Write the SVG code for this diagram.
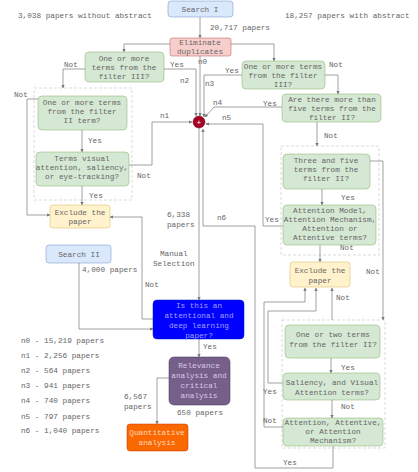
<svg xmlns="http://www.w3.org/2000/svg" width="418" height="472" viewBox="0 0 418 472">
<defs>
<marker id="a" viewBox="0 0 6 6" refX="5.5" refY="3" markerWidth="4" markerHeight="4" orient="auto"><path d="M0,0 L6,3 L0,6 Z" fill="#777"/></marker>
<style>
text{font-family:"Liberation Mono","DejaVu Sans Mono",monospace;font-size:7.7px;fill:#666}
.c text,.m{text-anchor:middle}
.g{fill:#d5e8d4;stroke:#82b366;stroke-width:0.5}
.y{fill:#fff2cc;stroke:#d6b656;stroke-width:0.5}
.b{fill:#dae8fc;stroke:#6c8ebf;stroke-width:0.5}
.r{fill:#f8cecc;stroke:#b85450;stroke-width:0.5}
.d{fill:none;stroke:#ccc;stroke-width:0.7;stroke-dasharray:3 2}
#conn path{fill:none;stroke:#888;stroke-width:0.8;marker-end:url(#a)}
</style>
</defs>
<rect width="418" height="472" fill="#fff"/>
<rect class="d" x="34" y="88" width="98" height="112"/>
<rect class="d" x="281" y="146" width="98" height="109"/>
<rect class="d" x="282" y="320" width="103" height="128"/>
<g id="conn">
<path d="M200,17 V38"/>
<path d="M170,44 H124 V52"/>
<path d="M231,44 H274 V61"/>
<path d="M85,69 H63 V88"/>
<path d="M164,69 H196 V116"/>
<path d="M200,56 V116"/>
<path d="M242,75 H204 V117"/>
<path d="M325,75 H338 V94"/>
<path d="M282,107 H214 L205,117"/>
<path d="M317,122 V146"/>
<path d="M283,226 H263 V124 H206"/>
<path d="M333,446 V468 H255 V226 H203 V129"/>
<path d="M199,128 V300"/>
<path d="M129,165 H152 V122 H192"/>
<path d="M82,130 V152"/>
<path d="M82,186 V205"/>
<path d="M38,99 H27 V215 H50"/>
<path d="M153,319 H142 V217 H110"/>
<path d="M79,263 V329 H153"/>
<path d="M199,339 V357"/>
<path d="M169,378 H157 V424"/>
<path d="M322,189 V205"/>
<path d="M320,245 V262"/>
<path d="M370,161 H383 V320"/>
<path d="M332,320 V288"/>
<path d="M331,358 V373"/>
<path d="M283,383 H268 V311 H316 V288"/>
<path d="M332,400 V418"/>
<path d="M283,427 H264 V302 H305 V288"/>
</g>
<g id="searchI" class="c"><rect class="b" x="168" y="1" width="65" height="16" rx="3"/><text x="200" y="12">Search I</text></g>
<g id="elim" class="c"><rect class="r" x="170" y="38" width="61" height="18" rx="2"/><text x="200" y="45">Eliminate</text><text x="200" y="54">duplicates</text></g>
<g id="f3left" class="c"><rect class="g" x="85" y="52" width="79" height="30" rx="4"/><text x="124" y="61">One or more</text><text x="124" y="70">terms from the</text><text x="124" y="79">filter III?</text></g>
<g id="f3right" class="c"><rect class="g" x="242" y="61" width="83" height="28" rx="4"/><text x="283" y="69">One or more terms</text><text x="283" y="78">from the filter</text><text x="283" y="87">III?</text></g>
<g id="more5" class="c"><rect class="g" x="282" y="94" width="99" height="28" rx="4"/><text x="332" y="102">Are there more than</text><text x="332" y="111">five terms from the</text><text x="332" y="120">filter II?</text></g>
<g id="f2term" class="c"><rect class="g" x="38" y="96" width="89" height="34" rx="4"/><text x="82" y="105">One or more terms</text><text x="82" y="114">from the filter</text><text x="82" y="123">II term?</text></g>
<g id="visual" class="c"><rect class="g" x="36" y="152" width="93" height="34" rx="4"/><text x="82" y="161">Terms visual</text><text x="82" y="170">attention, saliency,</text><text x="82" y="179">or eye-tracking?</text></g>
<g id="excl1" class="c"><rect class="y" x="50" y="205" width="60" height="23" rx="3"/><text x="80" y="215">Exclude the</text><text x="80" y="224">paper</text></g>
<g id="three5" class="c"><rect class="g" x="283" y="154" width="87" height="35" rx="4"/><text x="326" y="163">Three and five</text><text x="326" y="172">terms from the</text><text x="326" y="181">filter II?</text></g>
<g id="attmodel" class="c"><rect class="g" x="283" y="205" width="93" height="40" rx="4"/><text x="330" y="213">Attention Model,</text><text x="330" y="222">Attention Mechanism,</text><text x="330" y="231">Attention or</text><text x="330" y="240">Attentive terms?</text></g>
<g id="excl2" class="c"><rect class="y" x="290" y="262" width="60" height="25" rx="3"/><text x="320" y="273">Exclude the</text><text x="320" y="283">paper</text></g>
<g id="searchII" class="c"><rect class="b" x="46" y="245" width="65" height="18" rx="3"/><text x="79" y="257">Search II</text></g>
<g id="blue" class="c"><rect x="153" y="300" width="91" height="39" rx="4" fill="#0000ff" stroke="#001dbc" stroke-width="0.5"/><text x="199" y="308" style="fill:#a0a0ff">Is this an</text><text x="199" y="318" style="fill:#a0a0ff">attentional and</text><text x="199" y="328" style="fill:#a0a0ff">deep learning</text><text x="199" y="338" style="fill:#a0a0ff">paper?</text></g>
<g id="relev" class="c"><rect x="169" y="357" width="61" height="48" rx="5" fill="#76608a" stroke="#432d57" stroke-width="0.5"/><text x="199" y="368" style="fill:#d8c8e8">Relevance</text><text x="199" y="378" style="fill:#d8c8e8">analysis and</text><text x="199" y="388" style="fill:#d8c8e8">critical</text><text x="199" y="398" style="fill:#d8c8e8">analysis</text></g>
<g id="quant" class="c"><rect x="127" y="424" width="61" height="27" rx="3" fill="#fa6800" stroke="#c73500" stroke-width="0.5"/><text x="157" y="435" style="fill:#ffd8c0">Quantitative</text><text x="157" y="445" style="fill:#ffd8c0">analysis</text></g>
<g id="one2" class="c"><rect class="g" x="285" y="325" width="95" height="33" rx="4"/><text x="333" y="337">One or two terms</text><text x="333" y="347">from the filter II?</text></g>
<g id="saliency" class="c"><rect class="g" x="283" y="373" width="97" height="27" rx="4"/><text x="332" y="385">Saliency, and Visual</text><text x="332" y="395">Attention terms?</text></g>
<g id="attentive" class="c"><rect class="g" x="283" y="418" width="100" height="28" rx="4"/><text x="333" y="425">Attention, Attentive,</text><text x="333" y="434">or Attention</text><text x="333" y="443">Mechanism?</text></g>
<g id="junction"><circle cx="199" cy="122" r="6" fill="#a20025" stroke="#6f0000" stroke-width="0.5"/><text x="199" y="125" class="m" style="fill:#fff;font-size:8px">+</text></g>
<g id="labels">
<text x="18" y="18">3,038 papers without abstract</text>
<text x="285" y="18">18,257 papers with abstract</text>
<text x="210" y="30">20,717 papers</text>
<text x="198" y="64">n0</text>
<text x="64" y="67">Not</text>
<text x="170" y="67">Yes</text>
<text x="180" y="83">n2</text>
<text x="205" y="86">n3</text>
<text x="225" y="73">Yes</text>
<text x="329" y="67">Not</text>
<text x="14" y="97">Not</text>
<text x="213" y="105">n4</text>
<text x="263" y="106">Yes</text>
<text x="222" y="120">n5</text>
<text x="160" y="118">n1</text>
<text x="324" y="138">Not</text>
<text x="88" y="143">Yes</text>
<text x="137" y="178">Not</text>
<text x="89" y="198">Yes</text>
<text x="341" y="200">Yes</text>
<text x="167" y="217">6,338</text>
<text x="167" y="227">papers</text>
<text x="217" y="220">n6</text>
<text x="265" y="222">Yes</text>
<text x="340" y="250">Not</text>
<text x="160" y="256">Manual</text>
<text x="153" y="266">Selection</text>
<text x="82" y="272">4,000 papers</text>
<text x="366" y="274">Not</text>
<text x="145" y="287">Not</text>
<text x="336" y="300">Not</text>
<text x="21" y="343">n0 - 15,219 papers</text>
<text x="203" y="349">Yes</text>
<text x="21" y="358">n1 - 2,256 papers</text>
<text x="341" y="370">Yes</text>
<text x="21" y="373">n2 - 564 papers</text>
<text x="21" y="388">n3 - 941 papers</text>
<text x="263" y="394">Yes</text>
<text x="124" y="399">6,567</text>
<text x="21" y="403">n4 - 740 papers</text>
<text x="124" y="409">papers</text>
<text x="341" y="409">Not</text>
<text x="177" y="415">650 papers</text>
<text x="21" y="419">n5 - 797 papers</text>
<text x="263" y="423">Not</text>
<text x="21" y="433">n6 - 1,040 papers</text>
<text x="283" y="465">Yes</text>
</g>
</svg>
